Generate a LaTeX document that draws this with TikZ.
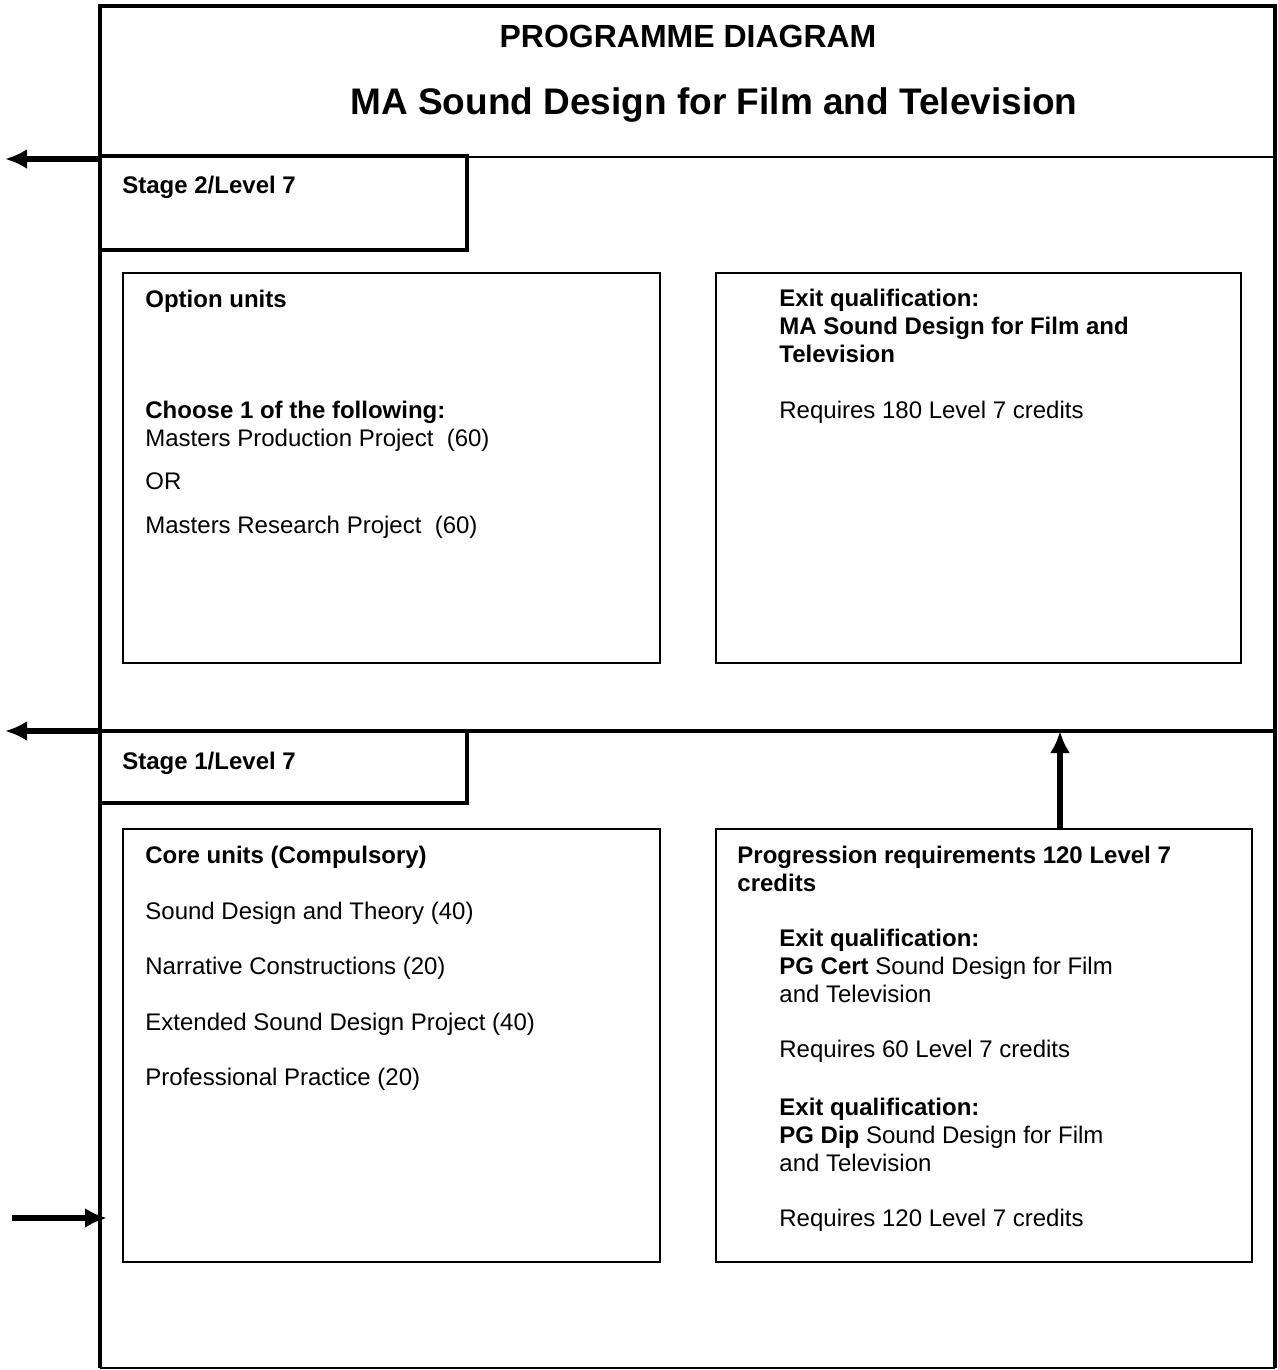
\documentclass[tikz,border=0pt]{standalone}
\usepackage{fontspec}
\setmainfont{Liberation Sans}
\usetikzlibrary{arrows.meta,positioning}
\tikzset{
        frame/.style = {line width=1.9pt},
        stagebox/.style = {draw, rectangle, line width=1.9pt,
            anchor=north west, inner sep=0pt, outer sep=0pt},
        unitbox/.style = {draw, rectangle, line width=1.1pt,
            anchor=north west, inner sep=0pt, outer sep=0pt},
        txt/.style = {anchor=base west, inner sep=0pt, align=left,
            font=\fontsize{12}{13.8}\selectfont},
        arrow/.style = {draw, -{Latex[length=11pt,width=10pt]}, line width=2.8pt},
    }

\begin{document}
\begin{tikzpicture}[x=0.5pt,y=-0.5pt]
    \useasboundingbox (0,0) rectangle (1278,1370);

    % outer frame and dividers
    \draw[frame] (100,1368) -- (100,6) -- (1275,6) -- (1275,1368);
    \draw[line width=0.6pt] (100,1368) -- (1275,1368);
    \draw[line width=1.2pt] (100,157) -- (1275,157);
    \draw[frame] (100,731) -- (1275,731);

    % title
    \node[anchor=base, font=\bfseries\fontsize{16}{19}\selectfont] (progdiag) at (688,48) {PROGRAMME DIAGRAM};
    \node[anchor=base, font=\bfseries\fontsize{18.5}{22}\selectfont] (course) at (714,114) {MA Sound Design for Film and Television};

    % stage 2
    \node[stagebox, minimum width=183.5pt, minimum height=47pt] (stagetwo) at (100,156) {};
    \node[txt] (stagetwolbl) at (122,193) {\textbf{Stage 2/Level 7}};
    \node[unitbox, minimum width=268.5pt, minimum height=195pt] (optbox) at (123,273) {};
    \node[unitbox, minimum width=262.5pt, minimum height=195pt] (exitbox) at (716,273) {};

    \node[txt] (optlbl) at (145,307) {\textbf{Option units}};
    \node[txt] (choose) at (145,446) {\textbf{Choose 1 of the following:}\\
        Masters Production Project\ \ (60)};
    \node[txt] (orlbl) at (145,489) {OR};
    \node[txt] (research) at (145,533) {Masters Research Project\ \ (60)};

    \node[txt] (exitma) at (779,362) {\textbf{Exit qualification:}\\
        \textbf{MA Sound Design for Film and}\\ \textbf{Television}};
    \node[txt] (reqma) at (779,418) {Requires 180 Level 7 credits};

    % stage 1
    \node[stagebox, minimum width=183.5pt, minimum height=36pt] (stageone) at (100,731) {};
    \node[txt] (stageonelbl) at (122,769) {\textbf{Stage 1/Level 7}};
    \node[unitbox, minimum width=268.5pt, minimum height=216.5pt] (corebox) at (123,829) {};
    \node[unitbox, minimum width=268pt, minimum height=216.5pt] (progbox) at (716,829) {};

    \node[txt] (corelbl) at (145,863) {\textbf{Core units (Compulsory)}};
    \node[txt] (coreone) at (145,919) {Sound Design and Theory (40)};
    \node[txt] (coretwo) at (145,974) {Narrative Constructions (20)};
    \node[txt] (corethree) at (145,1030) {Extended Sound Design Project (40)};
    \node[txt] (corefour) at (145,1085) {Professional Practice (20)};

    \node[txt] (proglbl) at (737,891) {\textbf{Progression requirements 120 Level 7}\\
        \textbf{credits}};
    \node[txt] (pgcert) at (779,1002) {\textbf{Exit qualification:}\\
        \textbf{PG Cert} Sound Design for Film\\ and Television};
    \node[txt] (reqcert) at (779,1057) {Requires 60 Level 7 credits};
    \node[txt] (pgdip) at (779,1171) {\textbf{Exit qualification:}\\
        \textbf{PG Dip} Sound Design for Film\\ and Television};
    \node[txt] (reqdip) at (779,1226) {Requires 120 Level 7 credits};

    % arrows
    \coordinate (outtwo) at (5,159);
    \coordinate (outone) at (5,731);
    \coordinate (entry) at (12,1218);
    \coordinate (entrytip) at (107,1218);
    \coordinate (uptip) at (1060,731);
    \draw[arrow] (stagetwo.north west |- outtwo) -- (outtwo);
    \draw[arrow] (stageone.north west) -- (outone);
    \draw[arrow] (entry) -- (entrytip);
    \draw[arrow] (progbox.north west -| uptip) -- (uptip);
\end{tikzpicture}
\end{document}
